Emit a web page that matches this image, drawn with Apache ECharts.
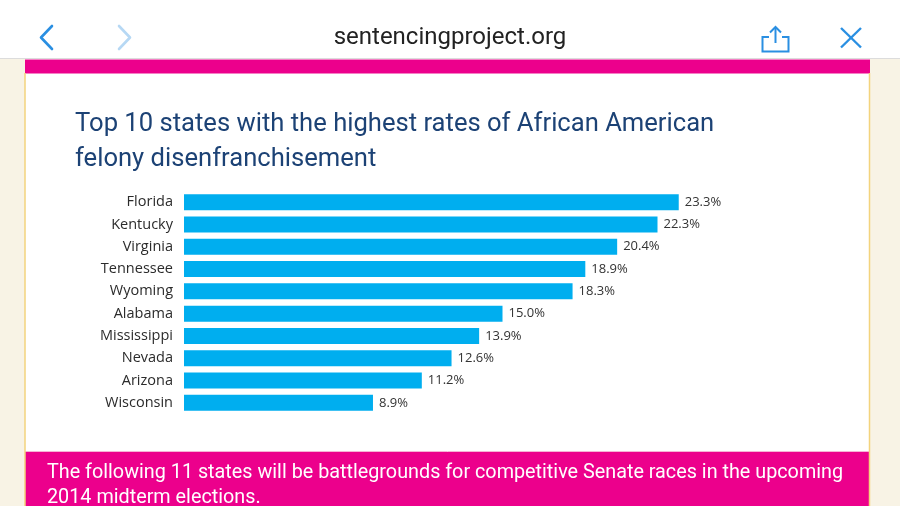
<!DOCTYPE html>
<html>
<head>
<meta charset="utf-8">
<script src="https://cdn.jsdelivr.net/npm/echarts@6/dist/echarts.min.js"></script>
<style>
  html, body { margin: 0; padding: 0; background: #f8f3e5; }
  #chart { width: 900px; height: 506px; }
</style>
</head>
<body>
<div id="chart"></div>
<script>
var states = ['Florida', 'Kentucky', 'Virginia', 'Tennessee', 'Wyoming', 'Alabama', 'Mississippi', 'Nevada', 'Arizona', 'Wisconsin'];
var rates = [23.3, 22.3, 20.4, 18.9, 18.3, 15.0, 13.9, 12.6, 11.2, 8.9];
var titleText = 'Top 10 states with the highest rates of African American\nfelony disenfranchisement';
var footerLines = ['The following 11 states will be battlegrounds for competitive Senate races in the upcoming', '2014 midterm elections.'];

(function() {
  var chart = echarts.init(document.getElementById('chart'));
  var pink = '#ec008c';
  var blue = '#2a8fe2';

  // browser chrome + page frame, drawn behind the chart
  var chrome = [
    { type: 'rect', shape: { x: 0, y: 0, width: 900, height: 506 }, style: { fill: '#f8f3e5' }, z: -10 },
    { type: 'rect', shape: { x: 0, y: 0, width: 900, height: 58 }, style: { fill: '#ffffff' }, z: -9 },
    { type: 'line', shape: { x1: 0, y1: 58.5, x2: 900, y2: 58.5 }, style: { stroke: '#dcdcdc', lineWidth: 1 }, z: -9 },
    { type: 'rect', shape: { x: 25, y: 59, width: 845, height: 447 }, style: { fill: '#ffffff' }, z: -9 },
    { type: 'rect', shape: { x: 25, y: 59.5, width: 845, height: 14 }, style: { fill: pink }, z: -8 },
    { type: 'rect', shape: { x: 25, y: 452, width: 845, height: 54 }, style: { fill: pink }, z: -8 },
    { type: 'line', shape: { x1: 25, y1: 451.5, x2: 870, y2: 451.5 }, style: { stroke: '#f6b3d6', lineWidth: 1 }, z: -8 },
    { type: 'line', shape: { x1: 25, y1: 73, x2: 25, y2: 506 }, style: { stroke: '#f3d37c', lineWidth: 1.5 }, z: -7 },
    { type: 'line', shape: { x1: 869.5, y1: 73, x2: 869.5, y2: 506 }, style: { stroke: '#f3d37c', lineWidth: 1.5 }, z: -7 },
    // back / forward
    { type: 'polyline', shape: { points: [[52, 26], [41, 37.5], [52, 49]] }, style: { stroke: blue, lineWidth: 2.6, fill: null, lineCap: 'round', lineJoin: 'round' } },
    { type: 'polyline', shape: { points: [[119, 26], [130, 37.5], [119, 49]] }, style: { stroke: '#b6d8f4', lineWidth: 2.6, fill: null, lineCap: 'round', lineJoin: 'round' } },
    { type: 'text', style: { text: 'sentencingproject.org', x: 450, y: 38, align: 'center', verticalAlign: 'middle', fill: '#222222', font: '24px Roboto' } },
    // share icon
    { type: 'polyline', shape: { points: [[769, 37], [762.5, 37], [762.5, 51.5], [788.5, 51.5], [788.5, 37], [782, 37]] }, style: { stroke: blue, lineWidth: 2, fill: null } },
    { type: 'line', shape: { x1: 775.5, y1: 27, x2: 775.5, y2: 43 }, style: { stroke: blue, lineWidth: 2 } },
    { type: 'polyline', shape: { points: [[770, 32.5], [775.5, 27], [781, 32.5]] }, style: { stroke: blue, lineWidth: 2, fill: null } },
    // close
    { type: 'line', shape: { x1: 841, y1: 28, x2: 861, y2: 47.5 }, style: { stroke: blue, lineWidth: 2.4 } },
    { type: 'line', shape: { x1: 861, y1: 28, x2: 841, y2: 47.5 }, style: { stroke: blue, lineWidth: 2.4 } }
  ];

  footerLines.forEach(function(line, i) {
    chrome.push({ type: 'text', style: { text: line, x: 47, y: 473 + i * 25, verticalAlign: 'middle', fill: '#ffffff', font: '19.8px Roboto' } });
  });

  var option = {
    animation: false,
    backgroundColor: '#f8f3e5',
    title: {
      text: titleText,
      left: 75,
      top: 107,
      padding: 0,
      textStyle: { color: '#1c4275', fontFamily: 'Roboto', fontWeight: 'normal', fontSize: 25.6, lineHeight: 35 }
    },
    graphic: chrome,
    grid: { left: 184, right: 79, top: 191, bottom: 92 },
    xAxis: {
      type: 'value',
      min: 0,
      max: 30,
      show: false
    },
    yAxis: {
      type: 'category',
      inverse: true,
      data: states,
      axisLine: { show: false },
      axisTick: { show: false },
      axisLabel: { color: '#2b2b2b', fontFamily: 'Open Sans', fontSize: 14.5, margin: 11 }
    },
    series: [{
      type: 'bar',
      data: rates,
      barWidth: 16,
      itemStyle: { color: '#00aeef' },
      label: {
        show: true,
        position: 'right',
        distance: 6,
        color: '#333333',
        fontFamily: 'Open Sans',
        fontSize: 13,
        formatter: function(p) {
          return p.value.toFixed(1) + '%';
        }
      }
    }]
  };
  chart.setOption(option);
})();
</script>
</body>
</html>
